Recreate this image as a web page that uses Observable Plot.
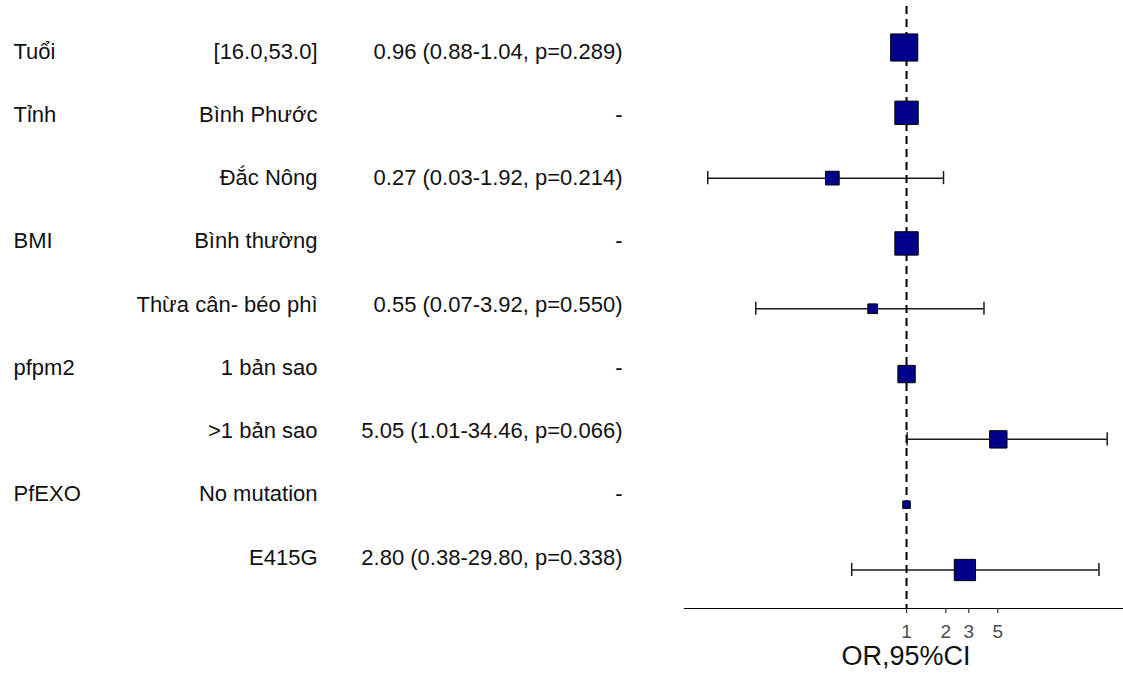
<!DOCTYPE html>
<html>
<head>
<meta charset="utf-8">
<script src="https://cdn.jsdelivr.net/npm/d3@7"></script>
<script src="https://cdn.jsdelivr.net/npm/@observablehq/plot@0.6"></script>
<style>
  html, body { margin: 0; padding: 0; background: #fff; }
  #wrap { position: relative; width: 1123px; height: 673px; overflow: hidden; }
  #wrap svg { position: absolute; left: 0; top: 0; }
</style>
</head>
<body>
<div id="wrap"></div>
<script>
// ---- data ----
const title = "Tái phát: OR (95%CI, p)";
const variables = ["Tuổi", "Tỉnh", "", "BMI", "", "pfpm2", "", "PfEXO", ""];
const levels = ["[16.0,53.0]", "Bình Phước", "Đắc Nông", "Bình thường", "Thừa cân- béo phì",
                "1 bản sao", ">1 bản sao", "No mutation", "E415G"];
const orLabels = ["0.96 (0.88-1.04, p=0.289)", "-", "0.27 (0.03-1.92, p=0.214)", "-",
                  "0.55 (0.07-3.92, p=0.550)", "-", "5.05 (1.01-34.46, p=0.066)", "-",
                  "2.80 (0.38-29.80, p=0.338)"];
const oddsRatio = [0.96, 1, 0.27, 1, 0.55, 1, 5.05, 1, 2.80];
const lower = [0.88, null, 0.03, null, 0.07, null, 1.01, null, 0.38];
const upper = [1.04, null, 1.92, null, 3.92, null, 34.46, null, 29.80];
const totals = [78, 58, 20, 58, 10, 32, 32, 6, 48];
const xTicks = [1, 2, 3, 5];
const xLabel = "OR,95%CI";

const rows = levels.map((lev, i) => ({
  id: i, variable: variables[i], level: lev, label: orLabels[i],
  or: oddsRatio[i], lo: lower[i], hi: upper[i], n: totals[i]
}));
const ids = rows.map(d => d.id);
const ciRows = rows.filter(d => d.lo != null);

const font = "'Liberation Sans', Arial, sans-serif";
const wrap = document.getElementById("wrap");

// ---- table (left) ----
const table = Plot.plot({
  width: 684, height: 673,
  marginLeft: 0, marginRight: 0, marginTop: 0, marginBottom: 0,
  style: { fontFamily: font, background: "transparent", overflow: "hidden" },
  y: { type: "point", domain: ids, range: [51, 557], padding: 0, round: false, axis: null },
  marks: [
    Plot.text([title], { frameAnchor: "top-left", textAnchor: "start", lineAnchor: "bottom",
      dx: 58, dy: -5, fontSize: 19, fill: "#111" }),
    Plot.text(rows, { y: "id", text: "variable", frameAnchor: "left", textAnchor: "start",
      dx: 13, fontSize: 22, fill: "#111" }),
    Plot.text(rows, { y: "id", text: "level", frameAnchor: "left", textAnchor: "end",
      dx: 317, fontSize: 22, fill: "#111" }),
    Plot.text(rows, { y: "id", text: "label", frameAnchor: "left", textAnchor: "end",
      dx: 622, fontSize: 22, fill: "#111" })
  ]
});
wrap.appendChild(table);

// ---- forest (right) ----
const forest = Plot.plot({
  width: 1123, height: 673,
  marginLeft: 684, marginRight: 0, marginTop: 6, marginBottom: 65,
  style: { fontFamily: font, background: "transparent" },
  x: { type: "log", domain: [0.0199, 49.3], range: [684, 1127], axis: null },
  y: { type: "band", domain: ids, range: [-11.78, 628.28], padding: 0.8, round: false, axis: null },
  r: { type: "sqrt", domain: [0, 78], range: [0, 15.3] },
  marks: [
    Plot.ruleX([1], { stroke: "#000", strokeWidth: 2, strokeDasharray: "8,5" }),
    Plot.frame({ anchor: "bottom", stroke: "#000", strokeWidth: 1.2 }),
    // axis ticks and labels
    Plot.tickX(xTicks, { x: d => d, insetTop: 602, insetBottom: -5, stroke: "#333", strokeWidth: 1.2 }),
    Plot.text(xTicks, { x: d => d, text: d => String(d), frameAnchor: "bottom", lineAnchor: "top",
      dy: 16, fontSize: 19, fill: "#4d4d4d" }),
    // confidence intervals
    Plot.ruleY(ciRows, { y: "id", x1: "lo", x2: "hi", stroke: "#1a1a1a", strokeWidth: 1.5 }),
    Plot.tickX(ciRows, { y: "id", x: "lo", stroke: "#1a1a1a", strokeWidth: 1.5 }),
    Plot.tickX(ciRows, { y: "id", x: "hi", stroke: "#1a1a1a", strokeWidth: 1.5 }),
    // point estimates
    Plot.dot(rows, { x: "or", y: "id", r: "n", symbol: "square", fill: "#00008B",
      stroke: "#000", strokeWidth: 1, fillOpacity: 1 }),
    Plot.text([xLabel], { frameAnchor: "bottom", dx: 2, dy: 56, fontSize: 27, fill: "#111" })
  ]
});
wrap.appendChild(forest);
</script>
</body>
</html>
